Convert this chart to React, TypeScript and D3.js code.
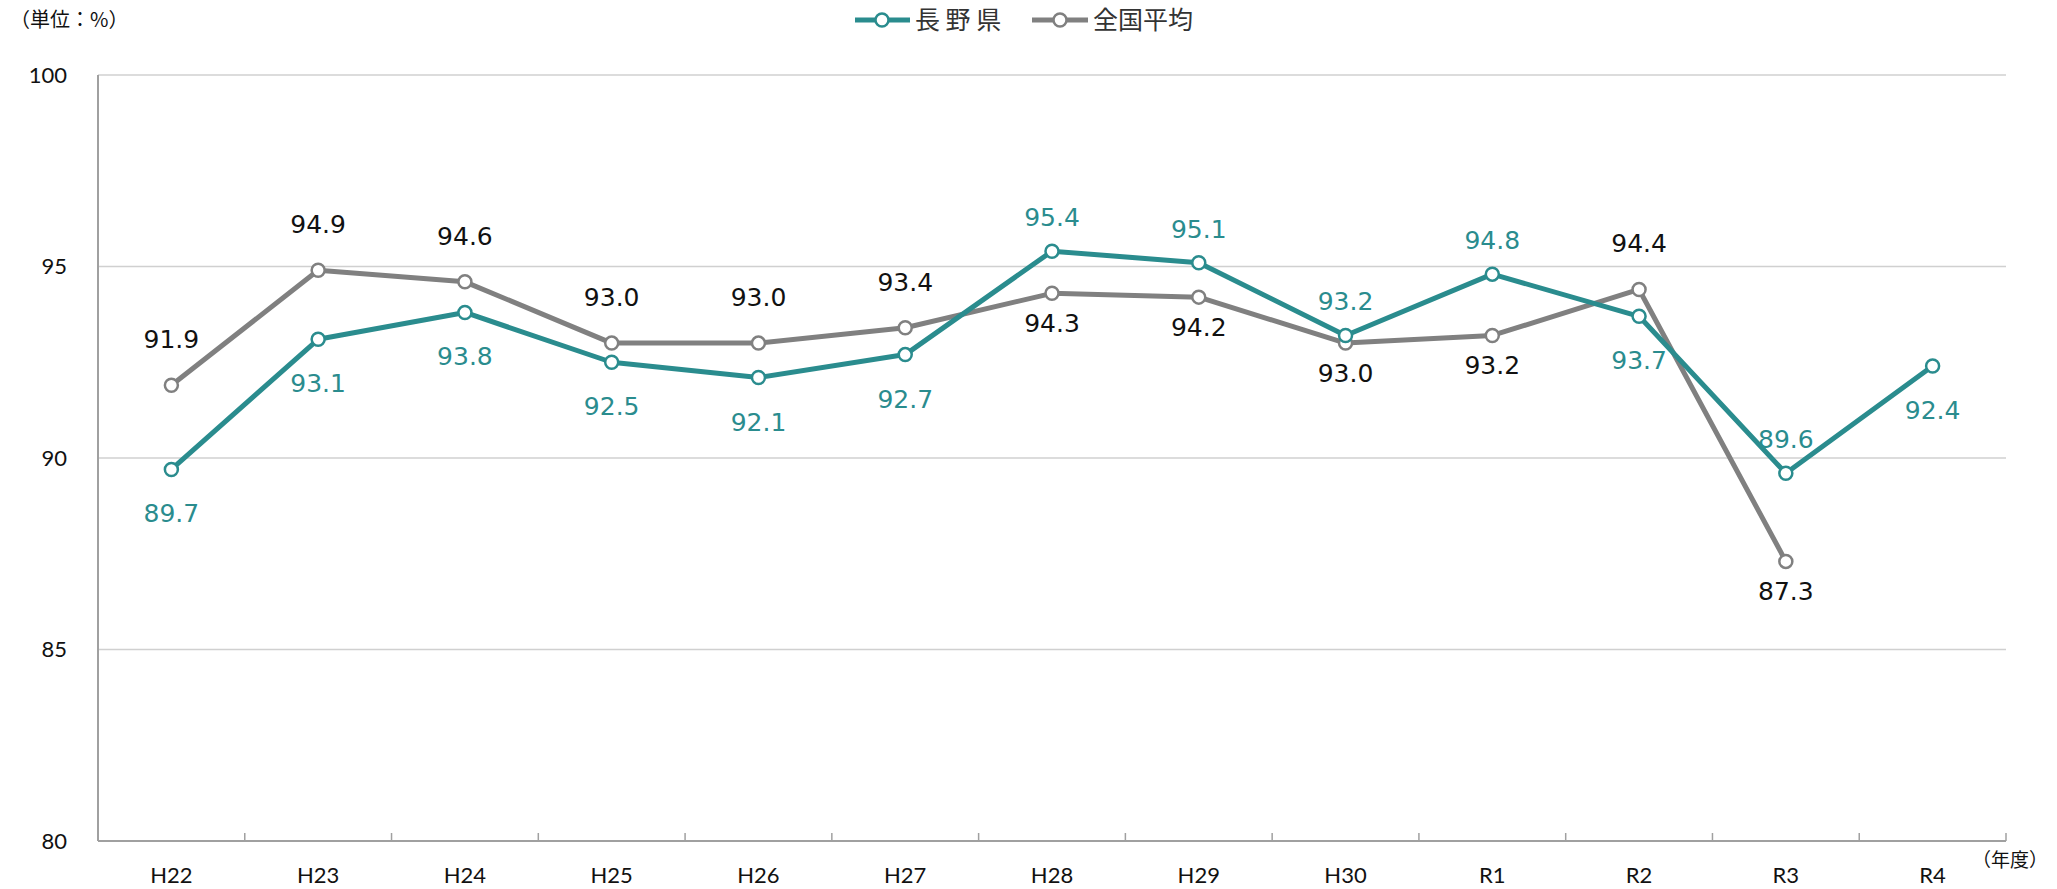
import React from 'react';
import * as d3 from 'd3';

const categories = ['H22', 'H23', 'H24', 'H25', 'H26', 'H27', 'H28', 'H29', 'H30', 'R1', 'R2', 'R3', 'R4'];
const naganoValues: (number | null)[] = [89.7, 93.1, 93.8, 92.5, 92.1, 92.7, 95.4, 95.1, 93.2, 94.8, 93.7, 89.6, 92.4];
const nationalValues: (number | null)[] = [91.9, 94.9, 94.6, 93.0, 93.0, 93.4, 94.3, 94.2, 93.0, 93.2, 94.4, 87.3, null];
// label placement per point: 1 = above, 0 = below
const naganoAbove = [0, 0, 0, 0, 0, 0, 1, 1, 1, 1, 0, 1, 0];
const nationalAbove = [1, 1, 1, 1, 1, 1, 0, 0, 0, 0, 1, 0, 0];
const yTicks = [80, 85, 90, 95, 100];

const W = 2057;
const H = 889;
const TEAL = '#2A8C8E';
const GRAY = '#808080';
const NUM_FONT = 'Lato, "Liberation Sans", sans-serif';
const LABEL_FONT = '"DejaVu Sans", Verdana, sans-serif';
const JP_FONT = '"Noto Sans CJK JP", "Noto Sans", sans-serif';

export default function App() {
    const x = d3.scaleBand<string>().domain(categories).range([98, 2006]).paddingInner(0).paddingOuter(0);
    const bw = x.bandwidth();
    const cx = (c: string) => (x(c) as number) + bw / 2;
    const y = d3.scaleLinear().domain([80, 100]).range([841, 75]);

    const line = d3.line<number | null>()
        .defined(d => d != null)
        .x((d, i) => cx(categories[i]))
        .y(d => y(d as number));

    const series = [
        { name: 'national', values: nationalValues, above: nationalAbove, color: GRAY, textColor: '#111', up: -37, down: 39 },
        { name: 'nagano', values: naganoValues, above: naganoAbove, color: TEAL, textColor: TEAL, up: -25, down: 53 },
    ];

    return (
        <svg width={W} height={H} style={{ position: 'absolute', left: 0, top: 0, background: '#fff' }}>
            {/* gridlines */}
            {yTicks.filter(t => t > 80).map(t => (
                <line key={t} x1={98} x2={2006} y1={y(t)} y2={y(t)} stroke="#D0D0D0" strokeWidth={1.5} />
            ))}
            {/* y tick labels */}
            {yTicks.map(t => (
                <text key={'yl' + t} x={67} y={y(t)} dy="0.36em" textAnchor="end" fontFamily={NUM_FONT} fontSize={22} fill="#111">{t}</text>
            ))}
            {/* axes */}
            <line x1={98} x2={98} y1={y(100)} y2={y(80)} stroke="#A0A0A0" strokeWidth={2} />
            <line x1={98} x2={2006} y1={y(80)} y2={y(80)} stroke="#A0A0A0" strokeWidth={2} />
            {categories.slice(1).map(c => (
                <line key={'t' + c} x1={x(c)} x2={x(c)} y1={y(80)} y2={y(80) - 8} stroke="#A0A0A0" strokeWidth={1.5} />
            ))}
            <line x1={2006} x2={2006} y1={y(80)} y2={y(80) - 8} stroke="#A0A0A0" strokeWidth={1.5} />
            {/* x labels */}
            {categories.map(c => (
                <text key={'xl' + c} x={cx(c)} y={883} textAnchor="middle" fontFamily={NUM_FONT} fontSize={22} fill="#111">{c}</text>
            ))}
            <text x={1972} y={867} fontFamily={JP_FONT} fontSize={19} fill="#111">（年度）</text>
            <text x={10} y={27} fontFamily={JP_FONT} fontSize={20} fill="#111">（単位：%）</text>

            {/* series */}
            {series.map(s => (
                <g key={s.name}>
                    <path d={line(s.values) || ''} fill="none" stroke={s.color} strokeWidth={5} strokeLinejoin="round" />
                    {s.values.map((v, i) => v == null ? null : (
                        <circle key={i} cx={cx(categories[i])} cy={y(v)} r={6.5} fill="#fff" stroke={s.color} strokeWidth={2.5} />
                    ))}
                </g>
            ))}
            {series.map(s => (
                <g key={s.name + 'lab'}>
                    {s.values.map((v, i) => v == null ? null : (
                        <text key={i} x={cx(categories[i])} y={y(v) + (s.above[i] ? s.up : s.down)} textAnchor="middle"
                            fontFamily={LABEL_FONT} fontSize={25} fill={s.textColor}>{v.toFixed(1)}</text>
                    ))}
                </g>
            ))}

            {/* legend */}
            <g>
                <line x1={855} x2={910} y1={20} y2={20} stroke={TEAL} strokeWidth={5} />
                <circle cx={882} cy={20} r={6.5} fill="#fff" stroke={TEAL} strokeWidth={2.5} />
                <text x={915} y={29} fontFamily={JP_FONT} fontSize={25} fill="#333">長 野 県</text>
                <line x1={1032} x2={1088} y1={20} y2={20} stroke={GRAY} strokeWidth={5} />
                <circle cx={1060} cy={20} r={6.5} fill="#fff" stroke={GRAY} strokeWidth={2.5} />
                <text x={1093} y={29} fontFamily={JP_FONT} fontSize={25} fill="#333">全国平均</text>
            </g>
        </svg>
    );
}
